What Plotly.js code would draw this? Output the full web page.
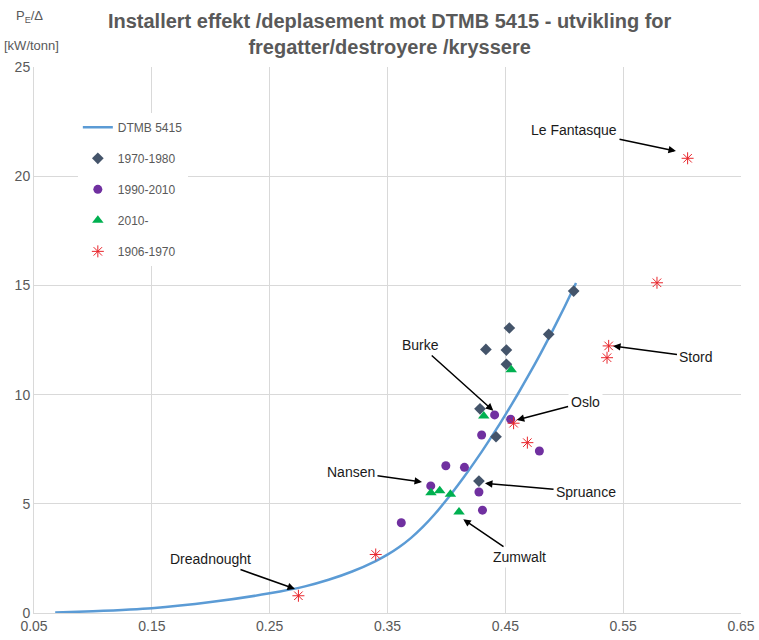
<!DOCTYPE html>
<html>
<head>
<meta charset="utf-8">
<script src="https://cdn.plot.ly/plotly-3.0.1.min.js"></script>
<style>html,body{margin:0;padding:0;background:#fff;}#chart{width:759px;height:640px;}</style>
</head>
<body>
<div id="chart"></div>
<script>
// DTMB 5415 curve
const curveX = [0.068, 0.10, 0.15, 0.20, 0.25, 0.28, 0.30, 0.32, 0.34, 0.35, 0.36, 0.37, 0.38, 0.39, 0.40, 0.41, 0.42, 0.43, 0.44, 0.45, 0.46, 0.47, 0.48, 0.49, 0.50, 0.51];
const curveY = [0.02, 0.08, 0.22, 0.50, 0.90, 1.22, 1.52, 1.90, 2.38, 2.67, 3.02, 3.44, 3.94, 4.52, 5.17, 5.87, 6.61, 7.39, 8.21, 9.07, 9.97, 10.91, 11.89, 12.92, 13.99, 15.11];
// 1970-1980
const s7080X = [0.4534, 0.4335, 0.4509, 0.4509, 0.4285, 0.4421, 0.4276, 0.5080, 0.4868];
const s7080Y = [13.05, 12.07, 12.04, 11.39, 9.35, 8.07, 6.04, 14.74, 12.76];
// 1990-2010
const s9010X = [0.4409, 0.4545, 0.4299, 0.4789, 0.3995, 0.4153, 0.3867, 0.4276, 0.4306, 0.3617];
const s9010Y = [9.07, 8.87, 8.15, 7.42, 6.74, 6.67, 5.82, 5.54, 4.71, 4.13];
// 2010-
const s2010X = [0.4550, 0.4317, 0.3869, 0.3943, 0.4034, 0.4107];
const s2010Y = [11.14, 9.02, 5.51, 5.60, 5.44, 4.63];
// 1906-1970
const s0670X = [0.6047, 0.5787, 0.5377, 0.5363, 0.4570, 0.4687, 0.3400, 0.2744];
const s0670Y = [20.82, 15.12, 12.23, 11.69, 8.69, 7.80, 2.68, 0.79];

const seriesNames = ['DTMB 5415', '1970-1980', '1990-2010', '2010-', '1906-1970'];
const xTicks = [0.05, 0.15, 0.25, 0.35, 0.45, 0.55, 0.65];
const yTicks = [0, 5, 10, 15, 20, 25];

const FONT = '"Liberation Sans", Arial, sans-serif';
const GREY = '#595959';

const traces = [
  {x: curveX, y: curveY, name: seriesNames[0], mode: 'lines', type: 'scatter', legendgroup: 'a',
   line: {color: '#5B9BD5', width: 2.5, shape: 'spline', smoothing: 0.5}},
  {x: s7080X, y: s7080Y, name: seriesNames[1], mode: 'markers', type: 'scatter', legendgroup: 'b',
   marker: {symbol: 'diamond', size: 9, color: '#44546A'}},
  {x: s9010X, y: s9010Y, name: seriesNames[2], mode: 'markers', type: 'scatter', legendgroup: 'c',
   marker: {symbol: 'circle', size: 9, color: '#7030A0'}},
  {x: s2010X, y: s2010Y, name: seriesNames[3], mode: 'markers', type: 'scatter', legendgroup: 'd',
   marker: {symbol: 'triangle-up', size: 10, color: '#00B050'}},
  {x: s0670X, y: s0670Y, name: seriesNames[4], mode: 'markers', type: 'scatter', legendgroup: 'e',
   marker: {symbol: 'asterisk-open', size: 10, color: '#E8262C', line: {color: '#E8262C', width: 1}}}
];

function lab(text, tx, ty, hx, hy) {
  return {text: text, x: hx, y: hy, xref: 'x', yref: 'y', ax: tx, ay: ty, axref: 'x', ayref: 'y',
    showarrow: true, arrowhead: 2, arrowsize: 1, arrowwidth: 1.5, arrowcolor: '#000',
    bgcolor: '#fff', font: {family: FONT, size: 14, color: '#1a1a1a'}, borderpad: 2};
}

const annotations = [
  lab('Le Fantasque', 0.5083, 22.12, 0.5948, 21.15),
  lab('Stord', 0.6118, 11.72, 0.5414, 12.23),
  lab('Oslo', 0.5177, 9.66, 0.4597, 8.84),
  lab('Burke', 0.3776, 12.27, 0.4398, 9.26),
  lab('Nansen', 0.3190, 6.46, 0.3793, 6.00),
  lab('Spruance', 0.5185, 5.54, 0.4327, 5.94),
  lab('Zumwalt', 0.4616, 2.56, 0.4143, 4.29),
  lab('Dreadnought', 0.2002, 2.47, 0.2715, 1.10),
  {text: 'P<sub>E</sub>/Δ', xref: 'paper', yref: 'paper', x: -0.006, y: 1.093, xanchor: 'center', yanchor: 'middle',
   showarrow: false, font: {family: FONT, size: 13, color: GREY}},
  {text: '[kW/tonn]', xref: 'paper', yref: 'paper', x: -0.004, y: 1.040, xanchor: 'center', yanchor: 'middle',
   showarrow: false, font: {family: FONT, size: 13, color: GREY}}
];

const layout = {
  width: 759, height: 640,
  margin: {l: 34, r: 18, t: 67, b: 27},
  paper_bgcolor: '#fff', plot_bgcolor: '#fff',
  title: {text: 'Installert effekt /deplasement mot DTMB 5415 - utvikling for<br>fregatter/destroyere /kryssere',
    x: 0.503, xanchor: 'center', xref: 'paper', y: 0.956, yanchor: 'middle', yref: 'container',
    font: {family: FONT, size: 20, color: GREY, weight: 'bold'}},
  xaxis: {range: [0.05, 0.65], tickvals: xTicks, ticktext: xTicks.map(v => v.toFixed(2)),
    showgrid: true, gridcolor: '#D9D9D9', gridwidth: 1, zeroline: false,
    showline: true, linecolor: '#D9D9D9', mirror: false, ticks: '',
    tickfont: {family: FONT, size: 14, color: GREY}},
  yaxis: {range: [0, 25], tickvals: yTicks, showgrid: true, gridcolor: '#D9D9D9', gridwidth: 1,
    zeroline: false, showline: true, linecolor: '#D9D9D9', ticks: '',
    tickfont: {family: FONT, size: 14, color: GREY}},
  showlegend: true,
  legend: {x: 0.062, y: 0.916, xanchor: 'left', yanchor: 'top', bgcolor: '#fff',
    traceorder: 'grouped', tracegroupgap: 12,
    font: {family: FONT, size: 12, color: GREY}},
  annotations: annotations
};

Plotly.newPlot('chart', traces, layout, {displayModeBar: false, staticPlot: true});
</script>
</body>
</html>
